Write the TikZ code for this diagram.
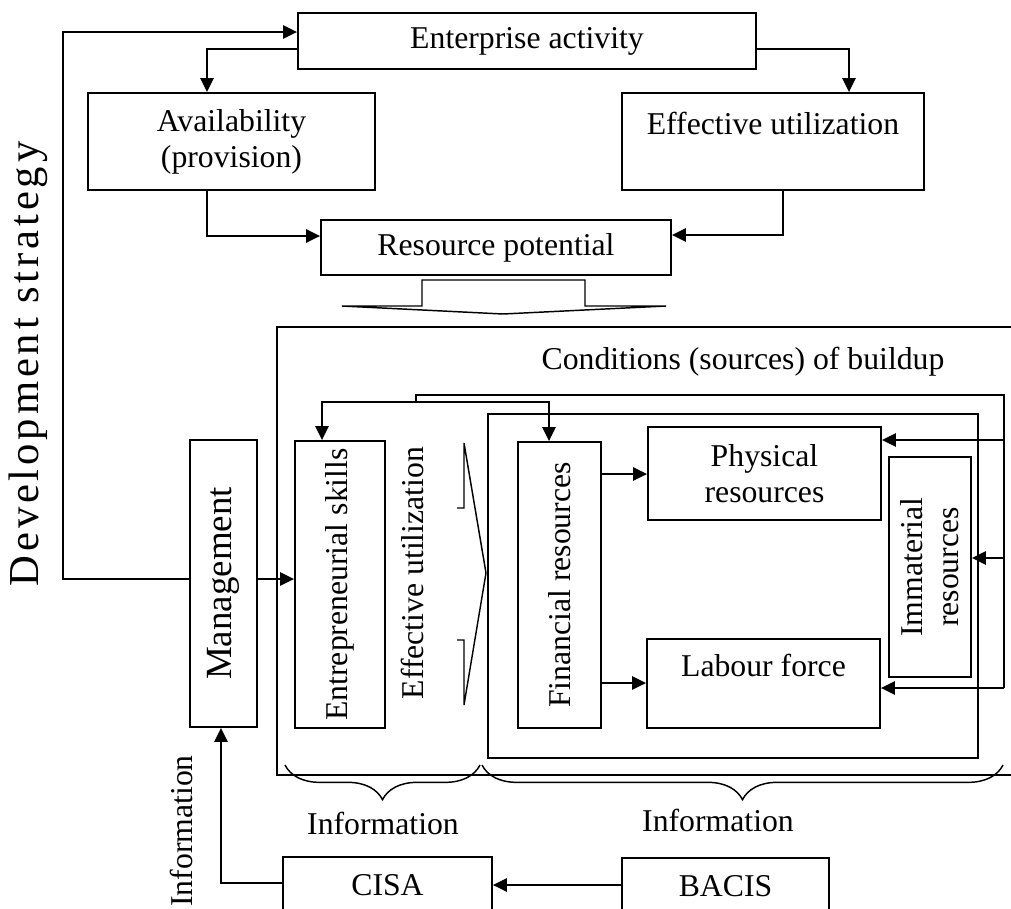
\documentclass[tikz,border=0pt]{standalone}
\usepackage{fontspec}
\usepackage{graphicx}
\setmainfont{Liberation Serif}
\newfontfamily\spacedfont[LetterSpace=9]{Liberation Serif}
\usetikzlibrary{arrows.meta,decorations.pathreplacing}
\begin{document}
\begin{tikzpicture}[x=0.75pt,y=-0.75pt,
  wh/.style 2 args={minimum width=#1*0.75pt, minimum height=#2*0.75pt},
  box/.style={draw, line width=1.4pt, inner sep=0pt, align=center, font=\fontsize{23.8}{27}\selectfont},
  txt/.style={inner sep=0pt, align=center, font=\fontsize{23.8}{27}\selectfont},
  ln/.style={line width=1.4pt},
  arr/.style={line width=1.4pt, -{Triangle[length=10.5pt,width=10pt]}},
  bracestyle/.style={line width=1.1pt, decorate, decoration={brace, mirror, amplitude=26pt}}]
\useasboundingbox (0,0) rectangle (1011,908);
\clip (0,0) rectangle (1011,908);

% boxes
\node[box, wh={458}{56}] (ent) at (527,41) {Enterprise activity};
\node[box, wh={287}{97}] (avail) at (231.5,141.5) {Availability\\(provision)};
\node[box, wh={302}{97}] (eff) at (773,141.5) {Effective utilization\\ ~};
\node[box, wh={350}{55}] (rp) at (496,247.5) {Resource potential};
\node[box, wh={67}{287}] (mgmt) at (223.5,583.5) {};
\node[txt, rotate=90, font=\fontsize{27.7}{32}\selectfont] (mgmtt) at (mgmt) {Management};
\node[box, wh={90}{287}] (es) at (340,584.5) {};
\node[txt, rotate=90] (est) at (es) {Entrepreneurial skills};
\node[box, wh={83}{286}] (fin) at (559.5,585) {};
\node[txt, rotate=90] (fint) at (fin) {Financial resources};
\node[box, wh={233}{93}] (phys) at (764.5,473.5) {Physical\\resources};
\node[box, wh={233}{89}] (lab) at (763.5,683.5) {Labour force\\ ~};
\node[box, wh={82}{220}] (imm) at (930,567) {};
\node[txt, rotate=90] (immt) at (imm) {Immaterial\\resources};
\node[box, wh={209}{56}] (cisa) at (387.5,885) {CISA};
\node[box, wh={207}{56}] (bacis) at (725.5,886) {BACIS};

% texts
\node[txt] (cond) at (743,362) {Conditions (sources) of buildup};
\node[txt, rotate=90] (effu) at (412,573) {Effective utilization};
\node[inner sep=0pt, rotate=90, font=\spacedfont\fontsize{32}{38}\selectfont] (ds) at (28,364) {Development strategy};
\node[txt, rotate=90] (info0) at (181,831) {Information};
\node[txt] (info1) at (383,823) {Information};
\node[txt] (info2) at (718,820) {Information};

% containers
\draw[ln] (1020,327) -- (277,327) -- (277,775) -- (1020,775);
\draw[ln] (488,414) rectangle (978,758);

% block arrow down
\draw[line width=1.1pt, line join=miter] (342,306) -- (422,306) -- (422,280) -- (585,280) -- (585,306) -- (666,306) -- (503,314) -- cycle;
% block arrow right (partial)
\draw[line width=1.1pt] (457,508) -- (464,508) -- (464,443) -- (486,573) -- (464,705) -- (464,640) -- (457,640);

% coordinates
\coordinate (ds1) at (63,579);
\coordinate (ds2) at (63,32);
\coordinate (b0) at (416,402);
\coordinate (b1) at (416,395);
\coordinate (b2) at (1004,395);
\coordinate (b3) at (1004,688);

% connectors
\draw[arr] (mgmt.west |- ds1) -- (ds1) -- (ds2) -- (ent.west |- ds2);
\draw[arr] (ent.west |- 0,49) -| (avail.north -| 207,0);
\draw[arr] (ent.east |- 0,49) -| (eff.north -| 849,0);
\draw[arr] (avail.south -| 207,0) |- (rp.west |- 0,236);
\draw[arr] (eff.south -| 783,0) |- (rp.east |- 0,235);
\draw[arr] (mgmt.east |- ds1) -- (es.west |- ds1);
\draw[ln] (b0) -- (b1) -- (b2) -- (b3);
\draw[arr] (b0) -| (es.north -| 322,0);
\draw[arr] (b0) -| (fin.north -| 549,0);
\draw[arr] (b2 |- 0,440) -- (phys.east |- 0,440);
\draw[arr] (b2 |- 0,558) -- (imm.east |- 0,558);
\draw[arr] (b3) -- (lab.east |- b3);
\draw[arr] (fin.east |- 0,474) -- (phys.west |- 0,474);
\draw[arr] (fin.east |- 0,683) -- (lab.west |- 0,683);
\draw[arr] (cisa.west |- 0,883) -| (mgmt.south -| 221,0);
\draw[arr] (bacis.west |- 0,885) -- (cisa.east |- 0,885);

% braces
\draw[bracestyle] (285,765) -- (480,765);
\draw[bracestyle] (482,765) -- (1003,765);
\end{tikzpicture}
\end{document}
